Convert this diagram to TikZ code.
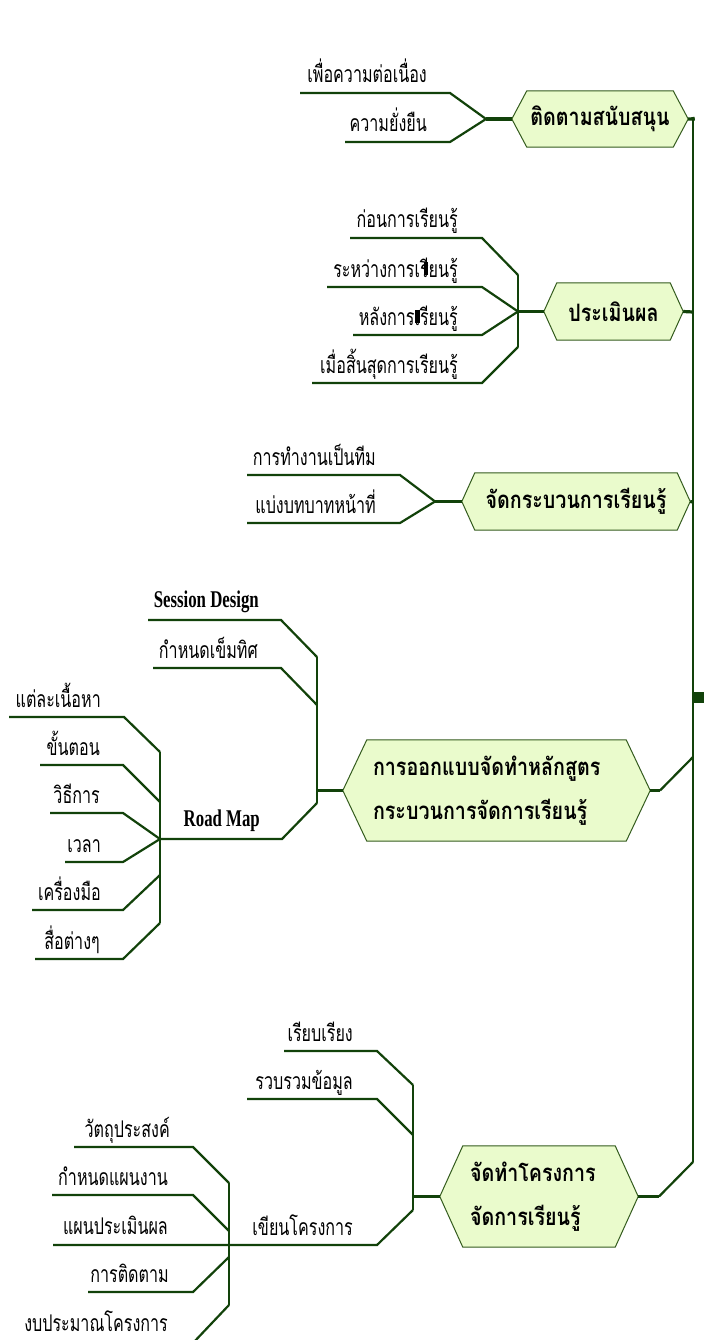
\documentclass[tikz,border=0pt]{standalone}
\usepackage{fontspec}
\newfontfamily\thr[Script=Thai,FakeStretch=0.70]{Loma}
\newfontfamily\thb[Script=Thai,FakeStretch=0.82]{Loma}
\newfontfamily\enb[FakeStretch=0.70]{Liberation Serif}
\usetikzlibrary{backgrounds}
\definecolor{lc}{RGB}{18,66,10}
\definecolor{hexfillc}{RGB}{234,251,204}
\definecolor{hexdrawc}{RGB}{52,92,30}
\tikzset{
 hexn/.style={rectangle, inner sep=0pt, font=\thb\bfseries\fontsize{24}{44}\selectfont},
 hexshape/.style={fill=hexfillc, draw=hexdrawc, line width=1pt},
 lbl/.style={anchor=base east, inner sep=0pt, font=\thr\fontsize{23}{26}\selectfont},
 elbl/.style={anchor=base east, inner sep=0pt, font=\enb\bfseries\fontsize{24}{26}\selectfont},
 br/.style={draw=lc, line width=2.2pt, line join=miter},
 vbar/.style={draw=lc, line width=1.6pt},
 stub/.style={draw=lc, line width=3.2pt},
 spine/.style={draw=lc, line width=2pt},
}
\newcommand\hexbg[2]{%
 \begin{scope}[on background layer]
 \path[hexshape] (#1.west) -- ([xshift=#2]#1.north west) -- ([xshift=-#2]#1.north east) -- (#1.east) -- ([xshift=-#2]#1.south east) -- ([xshift=#2]#1.south west) -- cycle;
 \end{scope}}
\begin{document}
\begin{tikzpicture}[x=1pt,y=-1pt]
\useasboundingbox (0,0) rectangle (704,1340);
\clip (0,0) rectangle (704,1340);

% ---------- hexagon nodes
\node[hexn, minimum width=176pt, minimum height=56pt] (n1) at (600,119) {ติดตามสนับสนุน};
\hexbg{n1}{15pt}
\node[hexn, minimum width=139pt, minimum height=57pt] (n2) at (613.5,311.5) {ประเมินผล};
\hexbg{n2}{13pt}
\node[hexn, minimum width=228pt, minimum height=57pt] (n3) at (576,501.5) {จัดกระบวนการเรียนรู้};
\hexbg{n3}{13pt}
\node[hexn, minimum width=307pt, minimum height=101pt, text width=247pt, align=left] (n4) at (496.5,790.5) {การออกแบบจัดทำหลักสูตร\\กระบวนการจัดการเรียนรู้};
\hexbg{n4}{24pt}
\node[hexn, minimum width=198pt, minimum height=101pt, text width=138pt, align=left] (n5) at (539,1196.5) {จัดทำโครงการ\\จัดการเรียนรู้};
\hexbg{n5}{23pt}

% ---------- spine
\coordinate (sTop) at (693,117);
\coordinate (s2) at (693,312);
\coordinate (s3) at (693,502);
\coordinate (s4) at (693,757);
\coordinate (sBot) at (693,1162);
\draw[spine] (sTop) -- (sBot);
\node[fill=lc, minimum size=11pt, inner sep=0pt] (root) at (698.5,697.5) {};
\draw[stub] (n1.east) -- ++(5,0) -- (sTop);
\draw[stub] (n2.east) -- (s2);
\draw[stub] (n3.east) -- (s3);
\draw[stub] (n4.east) -- (660,790.5);
\draw[br] (660,790.5) -- (s4);
\draw[stub] (n5.east) -- (659,1196.5);
\draw[br] (659,1196.5) -- (sBot);

% ---------- group A
\coordinate (jA) at (486,119);
\draw[stub] (n1.west) -- (jA);
\draw[br] (jA) -- (450,93) -- (300,93);
\draw[br] (jA) -- (450,142) -- (345,142);
\node[lbl] (a1) at (427,83) {เพื่อความต่อเนื่อง};
\node[lbl] (a2) at (427,132) {ความยั่งยืน};

% ---------- group B
\coordinate (jB) at (518,311.5);
\draw[stub] (n2.west) -- (jB);
\draw[vbar] (518,275) -- (518,347);
\draw[br] (518,275) -- (482,238) -- (350,238);
\draw[br] (jB) -- (482,287) -- (327,287);
\draw[br] (jB) -- (482,335) -- (353,335);
\draw[br] (518,347) -- (482,383) -- (312,383);
\node[lbl] (b1) at (458,228) {ก่อนการเรียนรู้};
\node[lbl] (b2) at (458,277) {ระหว่างการเรียนรู้};
\node[lbl] (b3) at (458,325) {หลังการเรียนรู้};
\node[lbl] (b4) at (458,373) {เมื่อสิ้นสุดการเรียนรู้};
\fill (424,262) rectangle (427.5,275);
\fill (415,310) rectangle (420,323);

% ---------- group C
\coordinate (jC) at (435,501.5);
\draw[stub] (n3.west) -- (jC);
\draw[br] (jC) -- (400,475) -- (247,475);
\draw[br] (jC) -- (400,523) -- (247,523);
\node[lbl] (c1) at (376,465) {การทำงานเป็นทีม};
\node[lbl] (c2) at (376,513) {แบ่งบทบาทหน้าที่};

% ---------- group D
\coordinate (jD) at (317,790.5);
\draw[stub] (n4.west) -- (jD);
\draw[vbar] (317,657) -- (317,803);
\draw[br] (317,657) -- (281,620) -- (148,620);
\draw[br] (317,705) -- (281,668) -- (153,668);
\coordinate (jR) at (160,839);
\draw[br] (317,803) -- (282,839) -- (jR);
\node[elbl] (d1) at (259,607) {Session Design};
\node[lbl] (d2) at (258,658) {กำหนดเข็มทิศ};
\node[elbl] (d3) at (260,826) {Road Map};
% road map
\draw[vbar] (160,752) -- (160,923);
\draw[br] (160,752) -- (124,717) -- (9,717);
\draw[br] (160,802) -- (123,765) -- (40,765);
\draw[br] (jR) -- (123,813) -- (50,813);
\draw[br] (jR) -- (123,862) -- (65,862);
\draw[br] (160,875) -- (123,910) -- (32,910);
\draw[br] (160,923) -- (123,959) -- (35,959);
\node[lbl] (r1) at (101,707) {แต่ละเนื้อหา};
\node[lbl] (r2) at (100,755) {ขั้นตอน};
\node[lbl] (r3) at (100,803) {วิธีการ};
\node[lbl] (r4) at (101,852) {เวลา};
\node[lbl] (r5) at (101,900) {เครื่องมือ};
\node[lbl] (r6) at (100,949) {สื่อต่างๆ};

% ---------- group E
\coordinate (jE) at (413,1196.5);
\draw[stub] (n5.west) -- (jE);
\draw[vbar] (413,1085) -- (413,1210);
\draw[br] (413,1085) -- (377,1051) -- (284,1051);
\draw[br] (413,1135) -- (377,1099) -- (247,1099);
\coordinate (jW) at (229,1245);
\draw[br] (413,1210) -- (377,1245) -- (jW) -- (53,1245);
\node[lbl] (e1) at (353,1041) {เรียบเรียง};
\node[lbl] (e2) at (353,1089) {รวบรวมข้อมูล};
\node[lbl] (e3) at (353,1235) {เขียนโครงการ};
\draw[vbar] (229,1183) -- (229,1305);
\draw[br] (229,1183) -- (193,1147) -- (74,1147);
\draw[br] (229,1231) -- (193,1195) -- (52,1195);
\draw[br] (229,1257) -- (193,1292) -- (88,1292);
\draw[br] (229,1305) -- (193,1343) -- (20,1343);
\node[lbl] (f1) at (170,1137) {วัตถุประสงค์};
\node[lbl] (f2) at (168,1185) {กำหนดแผนงาน};
\node[lbl] (f3) at (168,1234) {แผนประเมินผล};
\node[lbl] (f4) at (169,1282) {การติดตาม};
\node[lbl] (f5) at (168,1331) {งบประมาณโครงการ};
\end{tikzpicture}
\end{document}
